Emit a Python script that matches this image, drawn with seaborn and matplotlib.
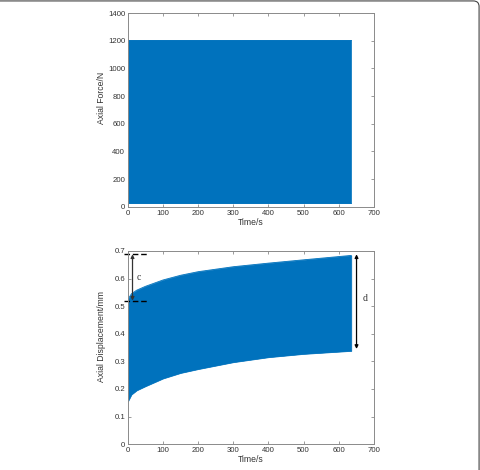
import numpy as np
import pandas as pd
import matplotlib
matplotlib.use("Agg")
import matplotlib.pyplot as plt
from matplotlib.patches import FancyBboxPatch
import seaborn as sns

# 数据（从图中读取的包络线）
force_time = [0, 100, 200, 300, 400, 500, 636]
force_upper = [1205, 1205, 1205, 1205, 1205, 1205, 1205]
force_lower = [28, 28, 28, 28, 28, 28, 28]

disp_time = [0, 10, 25, 50, 100, 150, 200, 300, 400, 500, 636]
disp_upper = [0.525, 0.545, 0.558, 0.572, 0.595, 0.612, 0.625, 0.643, 0.656, 0.668, 0.684]
disp_lower = [0.155, 0.180, 0.195, 0.210, 0.238, 0.258, 0.272, 0.297, 0.315, 0.327, 0.338]

x_ticks = [0, 100, 200, 300, 400, 500, 600, 700]
force_ticks = [0, 200, 400, 600, 800, 1000, 1200, 1400]
disp_ticks = [0, 0.1, 0.2, 0.3, 0.4, 0.5, 0.6, 0.7]

BLUE = '#0072BD'
SPINE = '#8a8a8a'

sns.set_theme(style="white")
plt.rcParams['font.family'] = ['Liberation Sans', 'DejaVu Sans']

fig = plt.figure(figsize=(4.81, 4.70), dpi=100)
ax1 = fig.add_axes([0.266, 0.560, 0.511, 0.412])
ax2 = fig.add_axes([0.266, 0.055, 0.511, 0.411])

df_force = pd.DataFrame({'t': force_time, 'up': force_upper, 'lo': force_lower})
df_disp = pd.DataFrame({'t': disp_time, 'up': disp_upper, 'lo': disp_lower})

for ax, df in [(ax1, df_force), (ax2, df_disp)]:
    ax.fill_between(df['t'], df['lo'], df['up'], color=BLUE, ec=BLUE, lw=0.5)
    sns.lineplot(data=df, x='t', y='up', ax=ax, color=BLUE, lw=0.6)
    sns.lineplot(data=df, x='t', y='lo', ax=ax, color=BLUE, lw=0.6)

def style_axes(ax, yticks, ylabel, label_y):
    ax.set_xlim(0, 700)
    ax.set_ylim(yticks[0], yticks[-1])
    ax.set_xticks(x_ticks)
    ax.set_yticks(yticks)
    ax.set_xlabel('Time/s', fontsize=6.2, color='#333333', labelpad=1)
    ax.set_ylabel(ylabel, fontsize=6.2, color='#333333')
    ax.yaxis.set_label_coords(-0.088, label_y)
    ax.tick_params(direction='in', length=2.5, width=0.6, colors=SPINE,
                   labelcolor='#333333', labelsize=5.6, pad=2,
                   top=True, right=True, bottom=True, left=True)
    for s in ax.spines.values():
        s.set_color(SPINE)
        s.set_linewidth(0.7)

style_axes(ax1, force_ticks, 'Axial Force/N', 0.565)
style_axes(ax2, disp_ticks, 'Axial Displacement/mm', 0.555)
ax2.set_yticklabels(['0', '0.1', '0.2', '0.3', '0.4', '0.5', '0.6', '0.7'])

# 标注 c
c_top, c_bot = 0.688, 0.520
ax2.plot([-12, 57], [c_top, c_top], ls=(0, (4, 2)), color='black', lw=1.0, clip_on=False)
ax2.plot([-12, 57], [c_bot, c_bot], ls=(0, (4, 2)), color='black', lw=1.0, clip_on=False)
ax2.annotate('', xy=(13, c_bot), xytext=(13, c_top),
             arrowprops=dict(arrowstyle='<|-|>', color='#333333', lw=0.9,
                             mutation_scale=5, shrinkA=0, shrinkB=0))
ax2.text(24, 0.605, 'c', fontsize=7, family=['Liberation Serif', 'DejaVu Serif'],
         va='center', ha='left', color='#333333')

# 标注 d
d_top, d_bot = 0.688, 0.345
ax2.annotate('', xy=(651, d_bot), xytext=(651, d_top),
             arrowprops=dict(arrowstyle='<|-|>', color='black', lw=0.9,
                             mutation_scale=5, shrinkA=0, shrinkB=0))
ax2.text(667, 0.526, 'd', fontsize=7, family=['Liberation Serif', 'DejaVu Serif'],
         va='center', ha='left', color='#333333')

# 外框
frame = FancyBboxPatch((-0.02, -0.02), 1.016, 1.018,
                       boxstyle="round,pad=0,rounding_size=0.012",
                       transform=fig.transFigure, fill=False,
                       ec='#444444', lw=0.8, clip_on=False)
fig.patches.append(frame)

fig.savefig('out.png', dpi=100)
plt.close(fig)
